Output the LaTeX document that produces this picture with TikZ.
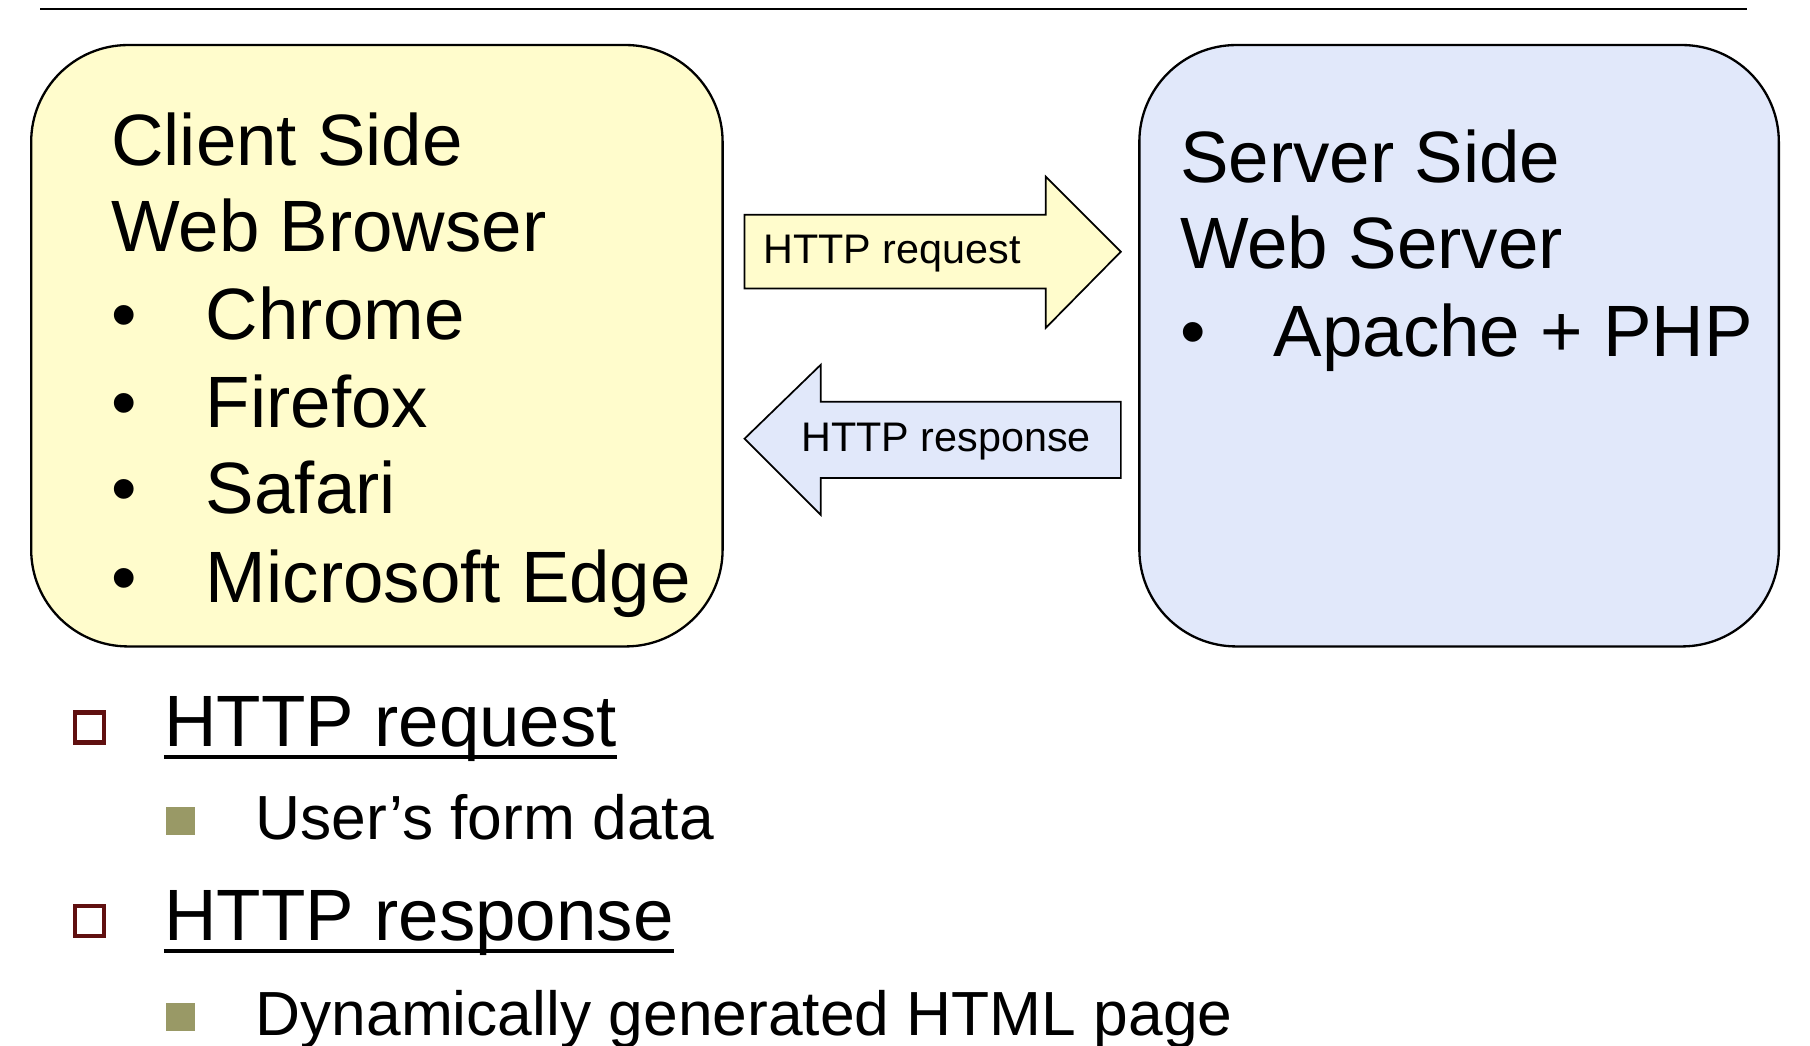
\documentclass[tikz,border=0pt]{standalone}
\usepackage{fontspec}
\setmainfont{Liberation Sans}
\definecolor{clientfill}{RGB}{255,252,204}
\definecolor{serverfill}{RGB}{225,232,250}
\definecolor{sqred}{RGB}{96,16,16}
\definecolor{sqolive}{RGB}{153,153,102}
\begin{document}
\begin{tikzpicture}[x=0.5pt,y=-0.5pt,
  big/.style={anchor=base west, inner sep=0pt, font=\fontsize{31.5}{37}\selectfont},
  small/.style={anchor=base west, inner sep=0pt, font=\fontsize{17.9}{21}\selectfont},
  sub/.style={anchor=base west, inner sep=0pt, font=\fontsize{27}{32}\selectfont},
  panel/.style={draw=black, line width=1pt, rounded corners=42pt},
  blockarrow/.style={draw=black, line width=0.75pt, line join=miter},
  hollowsq/.style={draw=sqred, line width=2pt},
  fullsq/.style={fill=sqolive},
  uline/.style={line width=1.9pt}]
\useasboundingbox (0,0) rectangle (1568,906);
% top rule
\coordinate (ruleL) at (35,8);
\coordinate (ruleR) at (1513,8);
\draw[line width=1pt] (ruleL) -- (ruleR);
% panels
\draw[panel, fill=clientfill] (27,39) rectangle (626,560);
\draw[panel, fill=serverfill] (987,39) rectangle (1541,560);
% client text
\node[big] (c1) at (96,143) {Client Side};
\node[big] (c2) at (96,218) {Web Browser};
\node[big] (b1) at (96,294) {•};
\node[big] (c3) at (178,294) {Chrome};
\node[big] (b2) at (96,370) {•};
\node[big] (c4) at (178,370) {Firefox};
\node[big] (b3) at (96,445) {•};
\node[big] (c5) at (178,445) {Safari};
\node[big] (b4) at (96,522) {•};
\node[big] (c6) at (178,522) {Microsoft Edge};
% server text
\node[big] (s1) at (1022,158) {Server Side};
\node[big] (s2) at (1022,233) {Web Server};
\node[big] (b5) at (1022,309) {•};
\node[big] (s3) at (1103,309) {Apache + PHP};
% request arrow
\draw[blockarrow, fill=clientfill] (645,186) -- (906,186) -- (906,153) -- (971,218) -- (906,284) -- (906,250) -- (645,250) -- cycle;
\node[small] (reqlab) at (661,228) {HTTP request};
% response arrow
\draw[blockarrow, fill=serverfill] (971,348) -- (711,348) -- (711,316) -- (645,380) -- (711,446) -- (711,414) -- (971,414) -- cycle;
\node[small] (reslab) at (694,391) {HTTP response};
% bottom list
\draw[hollowsq] (65,617) rectangle (90,643);
\node[big] (hreq) at (142,647) {HTTP request};
\draw[uline] ([yshift=-4.5pt]hreq.base west) -- ([yshift=-4.5pt]hreq.base east);
\fill[fullsq] (144,699) rectangle (169,723);
\node[sub] (d1) at (221,727) {User’s form data};
\draw[hollowsq] (65,785) rectangle (90,811);
\node[big] (hres) at (142,815) {HTTP response};
\draw[uline] ([yshift=-4.5pt]hres.base west) -- ([yshift=-4.5pt]hres.base east);
\fill[fullsq] (144,869) rectangle (169,893);
\node[sub] (d2) at (221,897) {Dynamically generated HTML page};
\end{tikzpicture}
\end{document}
